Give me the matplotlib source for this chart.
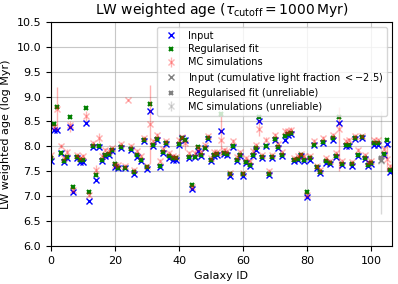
import numpy as np
import matplotlib
matplotlib.use('Agg')
import matplotlib.pyplot as plt

# galaxy ids and ages (log Myr)
gal_id = list(range(107))

age_input = [7.70, 8.32, 8.33, 7.86, 7.68, 7.76, 8.39, 7.08, 7.76, 7.68,
             7.68, 8.47, 6.91, 7.98, 7.33, 7.98, 7.70, 7.80, 7.82, 7.90,
             7.58, 7.56, 7.97, 7.56, np.nan, 7.92, 7.45, 7.78, 7.70, 8.10,
             7.54, 8.70, 8.00, 8.13, 7.58, 7.86, 8.05, 7.76, 7.73, 7.73,
             8.03, 8.16, 8.12, 7.77, 7.14, 7.78, 7.90, 7.80, 7.96, 8.14,
             7.70, 7.80, 7.83, 8.30, 7.85, 7.83, 7.40, 7.98, 7.70, 7.80,
             7.41, 7.66, 7.60, 7.80, 7.93, 8.50, 7.76, 8.00, 7.43, 7.76,
             8.13, 7.96, 7.80, 8.13, 8.23, 8.25, 7.70, 7.73, 7.80, 7.70,
             6.98, 7.73, 8.02, 7.56, 7.47, 8.06, 7.67, 7.64, 8.13, 7.78,
             8.47, 7.63, 8.00, 8.01, 7.61, 8.14, 7.81, 8.16, 7.74, 7.60,
             7.65, 8.03, 8.03, 7.73, 7.83, 8.05, 7.48]

age_regfit = [7.76, 8.45, 8.80, 7.87, 7.70, 7.78, 8.58, 7.18, 7.78, 7.72,
              7.73, 8.77, 7.08, 8.00, 7.43, 8.01, 7.72, 7.82, 7.85, 7.92,
              7.65, 7.57, 7.98, 7.57, np.nan, 7.94, 7.48, 7.82, 7.73, 8.12,
              7.58, 8.85, 8.02, 8.15, 7.61, 7.89, 8.06, 7.80, 7.77, 7.76,
              8.05, 8.16, 8.12, 7.78, 7.23, 7.78, 7.98, 7.82, 7.97, 8.16,
              7.72, 7.83, 7.85, 8.65, 7.87, 7.85, 7.45, 8.00, 7.72, 7.82,
              7.44, 7.68, 7.62, 7.83, 7.96, 8.59, 7.79, 8.01, 7.45, 7.78,
              8.15, 7.98, 7.82, 8.20, 8.25, 8.27, 7.72, 7.75, 7.82, 7.73,
              7.09, 7.76, 8.02, 7.59, 7.49, 8.08, 7.70, 7.66, 8.16, 7.81,
              8.59, 7.65, 8.03, 8.03, 7.64, 8.16, 7.83, 8.18, 7.77, 7.63,
              7.67, 8.06, 8.06, 7.76, 7.85, 8.12, 7.53]

age_mc = [7.83, 8.39, 8.76, 8.00, 7.76, 7.88, 8.43, 7.13, 7.83, 7.76,
          7.80, 8.61, 7.03, 8.06, 7.53, 8.16, 7.80, 7.93, 7.90, 7.96,
          7.63, 7.63, 8.04, 7.61, 8.93, 8.01, 7.52, 7.90, 7.80, 8.16,
          7.60, 8.45, 8.10, 8.22, 7.70, 7.95, 8.10, 7.86, 7.80, 7.78,
          8.12, 8.19, 8.06, 7.87, 7.18, 7.86, 7.96, 7.89, 8.03, 8.20,
          7.76, 7.88, 7.88, 8.13, 7.93, 7.90, 7.46, 8.10, 7.78, 7.88,
          7.46, 7.76, 7.70, 7.90, 8.03, 8.35, 7.83, 8.13, 7.50, 7.83,
          8.23, 8.05, 7.88, 8.30, 8.30, 8.33, 7.76, 7.81, 7.84, 7.81,
          7.03, 7.80, 8.10, 7.61, 7.53, 8.16, 7.76, 7.70, 8.23, 7.86,
          8.35, 7.70, 8.10, 8.13, 7.68, 8.20, 7.93, 8.21, 7.83, 7.68,
          7.70, 8.12, 8.12, 7.70, 7.95, 7.75, 7.60]

mc_err_lo = [0.04, 0.05, 0.43, 0.04, 0.04, 0.06, 0.15, 0.04, 0.04, 0.04,
             0.04, 0.10, 0.05, 0.05, 0.08, 0.09, 0.04, 0.04, 0.04, 0.04,
             0.04, 0.04, 0.04, 0.04, 0.02, 0.04, 0.04, 0.04, 0.04, 0.04,
             0.04, 0.79, 0.04, 0.05, 0.04, 0.04, 0.04, 0.04, 0.04, 0.04,
             0.04, 0.04, 0.13, 0.04, 0.04, 0.04, 0.04, 0.04, 0.04, 0.04,
             0.04, 0.04, 0.04, 0.33, 0.04, 0.04, 0.04, 0.05, 0.04, 0.04,
             0.04, 0.04, 0.04, 0.04, 0.04, 0.15, 0.04, 0.05, 0.04, 0.04,
             0.04, 0.04, 0.04, 0.05, 0.04, 0.05, 0.04, 0.04, 0.04, 0.04,
             0.04, 0.04, 0.04, 0.04, 0.04, 0.04, 0.04, 0.04, 0.04, 0.04,
             0.85, 0.04, 0.04, 0.04, 0.04, 0.04, 0.04, 0.04, 0.04, 0.04,
             0.04, 0.04, 0.04, 1.05, 0.04, 0.25, 0.05]

mc_err_hi = [0.04, 0.05, 0.44, 0.04, 0.04, 0.06, 0.07, 0.04, 0.04, 0.04,
             0.04, 0.10, 0.05, 0.05, 0.09, 0.11, 0.04, 0.04, 0.04, 0.04,
             0.04, 0.04, 0.04, 0.04, 0.02, 0.04, 0.04, 0.04, 0.04, 0.04,
             0.04, 0.79, 0.04, 0.05, 0.04, 0.04, 0.04, 0.04, 0.04, 0.04,
             0.04, 0.04, 0.04, 0.04, 0.04, 0.04, 0.04, 0.04, 0.04, 0.04,
             0.04, 0.04, 0.04, 0.47, 0.04, 0.04, 0.04, 0.05, 0.04, 0.04,
             0.04, 0.04, 0.04, 0.04, 0.04, 0.18, 0.04, 0.05, 0.04, 0.04,
             0.04, 0.04, 0.04, 0.05, 0.04, 0.05, 0.04, 0.04, 0.04, 0.04,
             0.04, 0.04, 0.04, 0.04, 0.04, 0.04, 0.04, 0.04, 0.04, 0.04,
             0.45, 0.04, 0.04, 0.04, 0.04, 0.04, 0.04, 0.04, 0.04, 0.04,
             0.04, 0.04, 0.04, 1.00, 0.04, 0.25, 0.05]

# galaxies where cumulative light fraction < -2.5
unreliable = [103]

x = np.array(gal_id)
a_in = np.array(age_input)
a_reg = np.array(age_regfit)
a_mc = np.array(age_mc)
err = np.array([mc_err_lo, mc_err_hi])
bad = np.isin(x, unreliable)
good = ~bad

plt.rcParams['font.size'] = 8

fig = plt.figure(figsize=(3.98, 2.84), dpi=100)
ax = fig.add_axes([0.128, 0.134, 0.857, 0.789])

h1, = ax.plot(x[good], a_in[good], 'bx', markersize=5, label='Input')
h2, = ax.plot(x[good], a_reg[good], 'gx', markersize=3, markeredgewidth=1.5, label='Regularised fit')
h3 = ax.errorbar(x[good], a_mc[good], yerr=err[:, good], fmt='x', color='red', alpha=0.3,
                 markersize=4, linewidth=1, label='MC simulations')

h4, = ax.plot(x[bad], a_in[bad], 'x', color='grey', markersize=5,
              label='Input (cumulative light fraction $< -2.5$)')
h5, = ax.plot(x[bad], a_reg[bad], 'x', color='grey', markersize=3, markeredgewidth=1.5,
              label='Regularised fit (unreliable)')
h6 = ax.errorbar(x[bad], a_mc[bad], yerr=err[:, bad], fmt='x', color='grey', alpha=0.3,
                 markersize=4, linewidth=1, label='MC simulations (unreliable)')

ax.set_xlim(0, 106.5)
ax.set_ylim(6.0, 10.5)
ax.set_yticks(np.arange(6.0, 10.51, 0.5))
ax.grid(True, color='#b0b0b0', linewidth=0.8, alpha=0.7)
ax.set_axisbelow(True)

ax.set_xlabel('Galaxy ID')
ax.set_ylabel('LW weighted age (log Myr)')
ax.set_title(r'LW weighted age ($\tau_{\rm cutoff} = 1000\,$Myr)', fontsize=10)
ax.legend(handles=[h1, h2, h3, h4, h5, h6], loc='upper right', fontsize=7,
          labelspacing=0.35)

fig.savefig('out.png', dpi=100)
